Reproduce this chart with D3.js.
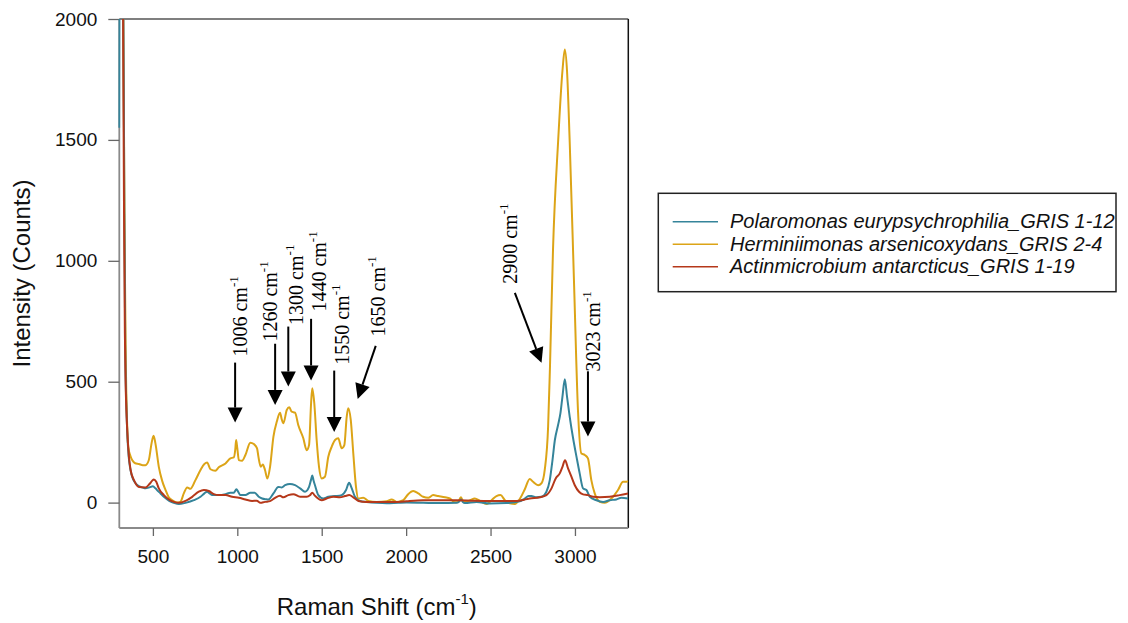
<!DOCTYPE html>
<html>
<head>
<meta charset="utf-8">
<script src="https://cdn.jsdelivr.net/npm/d3@7"></script>
<style>
  html, body { margin: 0; padding: 0; background: #ffffff; }
  svg { display: block; }
</style>
</head>
<body>
<svg id="chart" width="1128" height="623"></svg>
<script>
// Raman spectra of three Greenland ice-sheet isolates: [wavenumber (cm-1), intensity (counts)]
const polaromonas = [[300,1550],[302,2300],[318,2600],[326,1900],[331,1200],[336,650],[342,420],[348,290],[356,195],[366,140],[378,105],[392,85],[417,68],[440,62],[456,59],[480,63],[500,68],[515,59],[530,48],[545,38],[565,24],[585,13],[605,4],[624,-1],[654,-6],[693,-1],[743,10],[782,24],[805,38],[821,45],[836,38],[851,31],[890,31],[930,35],[959,41],[979,41],[995,55],[1005,45],[1018,31],[1048,31],[1077,41],[1103,41],[1127,24],[1147,17],[1170,14],[1184,13],[1214,38],[1243,65],[1263,63],[1283,72],[1312,77],[1342,72],[1372,59],[1401,45],[1425,65],[1437,95],[1444,112],[1452,90],[1460,72],[1480,31],[1509,17],[1539,24],[1579,27],[1618,31],[1644,52],[1662,82],[1678,59],[1697,24],[1727,7],[1766,3],[1825,-1],[1885,-3],[1953,-1],[2003,0],[2101,-1],[2200,-2],[2298,-1],[2315,5],[2326,13],[2336,2],[2348,-2],[2417,3],[2496,-4],[2594,-2],[2673,5],[2703,17],[2725,27],[2742,27],[2772,22],[2802,24],[2831,45],[2851,93],[2867,176],[2881,259],[2900,321],[2914,370],[2926,438],[2940,510],[2953,438],[2969,355],[2989,266],[3009,190],[3028,121],[3048,59],[3068,52],[3088,24],[3127,10],[3167,3],[3206,10],[3245,13],[3275,20],[3314,17]];

const herminiimonas = [[300,3000],[320,2600],[325,2000],[330,1400],[335,900],[340,560],[346,360],[354,231],[366,195],[378,175],[395,163],[417,160],[440,155],[456,155],[476,176],[492,245],[504,277],[515,245],[535,148],[555,90],[575,52],[594,22],[614,10],[644,0],[663,3],[683,38],[703,63],[722,57],[752,93],[782,135],[805,160],[821,166],[841,138],[870,132],[890,146],[930,162],[959,183],[979,187],[988,220],[993,259],[1000,225],[1009,176],[1028,173],[1048,197],[1077,248],[1098,242],[1117,224],[1125,190],[1139,148],[1151,158],[1164,135],[1178,100],[1194,148],[1214,273],[1234,335],[1253,372],[1263,345],[1273,328],[1293,383],[1308,394],[1322,376],[1342,372],[1361,321],[1391,266],[1411,217],[1425,238],[1437,411],[1444,473],[1456,411],[1470,259],[1484,148],[1500,100],[1519,107],[1539,190],[1559,231],[1579,259],[1598,266],[1618,225],[1634,238],[1648,355],[1657,390],[1672,342],[1687,204],[1703,65],[1717,17],[1746,20],[1776,7],[1825,3],[1885,6],[1914,13],[1944,3],[1983,10],[2012,35],[2042,48],[2072,38],[2101,24],[2131,20],[2160,31],[2190,27],[2230,22],[2259,17],[2289,1],[2308,3],[2324,22],[2338,7],[2367,7],[2407,17],[2437,7],[2476,-6],[2506,10],[2535,27],[2559,31],[2585,10],[2614,-3],[2644,-6],[2673,15],[2703,55],[2732,98],[2752,86],[2782,72],[2802,80],[2821,135],[2841,314],[2852,560],[2870,1046],[2900,1490],[2926,1786],[2940,1874],[2953,1786],[2969,1490],[2995,898],[3018,380],[3038,203],[3058,197],[3077,183],[3097,93],[3117,38],[3147,3],[3176,-1],[3216,17],[3255,52],[3285,86],[3305,86],[3314,90]];

const actinmicrobium = [[300,3000],[320,2600],[324,1900],[329,1200],[334,700],[338,507],[343,380],[348,300],[358,190],[368,135],[388,93],[417,65],[456,63],[480,77],[495,90],[506,96],[520,86],[535,59],[565,31],[595,13],[624,3],[654,-1],[693,7],[733,24],[772,45],[802,52],[831,48],[861,35],[890,31],[930,31],[969,24],[1009,20],[1048,13],[1088,7],[1115,8],[1137,-1],[1164,3],[1194,6],[1224,20],[1253,28],[1273,22],[1302,31],[1332,35],[1372,24],[1411,24],[1430,30],[1444,41],[1458,30],[1470,22],[1500,10],[1530,17],[1569,24],[1608,22],[1638,27],[1663,31],[1687,22],[1717,7],[1766,3],[1864,3],[1953,3],[2003,6],[2101,10],[2200,10],[2298,10],[2400,8],[2496,7],[2580,7],[2654,7],[2700,12],[2732,17],[2791,22],[2831,31],[2861,59],[2886,100],[2910,121],[2926,148],[2941,175],[2959,142],[2979,107],[2999,72],[3024,45],[3048,34],[3077,31],[3107,24],[3147,22],[3206,24],[3265,31],[3314,38]];

const seriesNames = [
  "Polaromonas eurypsychrophilia_GRIS 1-12",
  "Herminiimonas arsenicoxydans_GRIS 2-4",
  "Actinmicrobium antarcticus_GRIS 1-19"
];

const xTicks = [500, 1000, 1500, 2000, 2500, 3000];
const yTicks = [0, 500, 1000, 1500, 2000];

// Band assignments marked on the spectra: label, arrow tip, arrow tail, label anchor (cm-1, counts)
const bandLabels = ["1006", "1260", "1300", "1440", "1550", "1650", "2900", "3023"];
const arrowTips  = [[987,331],[1224,404],[1302,480],[1437,505],[1574,292],[1713,429],[2802,578],[3077,273]];
const arrowTails = [[987,579],[1224,657],[1302,728],[1437,760],[1574,546],[1820,648],[2644,867],[3077,543]];
const labelAnchors = [[1056,604],[1236,666],[1388,735],[1525,790],[1662,570],[1875,687],[2656,905],[3147,542]];

// ---- layout ----
const svg = d3.select("#chart");
const plot = { left: 119.3, right: 628.3, top: 19, bottom: 528 };
const colors = ["#35849a", "#dca417", "#b5381a"];
const sansFont = "'Liberation Sans', Arial, sans-serif";
const serifFont = "'Liberation Serif', 'Times New Roman', serif";

const x = d3.scaleLinear().domain([301, 3316]).range([plot.left, plot.right]);
const y = d3.scaleLinear().domain([-105, 2000]).range([plot.bottom, plot.top]);

svg.append("defs").append("clipPath").attr("id", "plotClip")
  .append("rect")
  .attr("x", plot.left - 1).attr("y", plot.top)
  .attr("width", plot.right - plot.left + 1).attr("height", plot.bottom - plot.top);

// spectra
const line = d3.line()
  .x(d => x(d[0]))
  .y(d => y(d[1]))
  .curve(d3.curveMonotoneX);

const seriesData = [polaromonas, herminiimonas, actinmicrobium];
const drawOrder = [1, 0, 2];

// frame: top and right edges
svg.append("line")
  .attr("x1", plot.left).attr("x2", plot.right)
  .attr("y1", plot.top).attr("y2", plot.top)
  .attr("stroke", "#555").attr("stroke-width", 1.5);
svg.append("line")
  .attr("x1", plot.right).attr("x2", plot.right)
  .attr("y1", plot.top).attr("y2", plot.bottom)
  .attr("stroke", "#111").attr("stroke-width", 1.5);

// axes
const fmt = d3.format("d");
const xAxis = svg.append("g")
  .attr("transform", `translate(0,${plot.bottom})`)
  .call(d3.axisBottom(x).tickValues(xTicks).tickFormat(fmt).tickSize(8).tickPadding(14).tickSizeOuter(0));
const yAxis = svg.append("g")
  .attr("transform", `translate(${plot.left},0)`)
  .call(d3.axisLeft(y).tickValues(yTicks).tickFormat(fmt).tickSize(11).tickPadding(11).tickSizeOuter(0));

[xAxis, yAxis].forEach(g => {
  g.select(".domain").attr("stroke", "#8a8a8a").attr("stroke-width", 1.8);
  g.selectAll(".tick line").attr("stroke", "#666").attr("stroke-width", 1.3);
  g.selectAll(".tick text")
    .attr("font-family", sansFont)
    .attr("font-size", 19)
    .attr("fill", "#111");
});
// extend the axis lines over the full plot box
xAxis.select(".domain").attr("d", `M${plot.left},0H${plot.right}`);
yAxis.select(".domain").attr("d", `M0,${plot.top}V${plot.bottom}`);

svg.append("g").attr("clip-path", "url(#plotClip)")
  .selectAll("path")
  .data(drawOrder)
  .join("path")
  .attr("d", i => line(seriesData[i]))
  .attr("fill", "none")
  .attr("stroke", i => colors[i])
  .attr("stroke-width", 2)
  .attr("stroke-linejoin", "round");

// axis titles
const xTitle = svg.append("text")
  .attr("x", (plot.left + plot.right) / 2 + 3)
  .attr("y", 615)
  .attr("text-anchor", "middle")
  .attr("font-family", sansFont)
  .attr("font-size", 24)
  .attr("fill", "#111");
xTitle.append("tspan").text("Raman Shift (cm");
xTitle.append("tspan").attr("font-size", 15).attr("dy", "-0.75em").text("-1");
xTitle.append("tspan").attr("dy", "0.47em").text(")");

svg.append("text")
  .attr("transform", `translate(30,${(plot.top + plot.bottom) / 2}) rotate(-90)`)
  .attr("text-anchor", "middle")
  .attr("font-family", sansFont)
  .attr("font-size", 24)
  .attr("fill", "#111")
  .text("Intensity (Counts)");

// band annotations
const headLen = 15, headHalf = 7.5;
const ann = svg.append("g");
bandLabels.forEach((lab, i) => {
  const [tx, ty] = [x(arrowTips[i][0]), y(arrowTips[i][1])];
  const [sx, sy] = [x(arrowTails[i][0]), y(arrowTails[i][1])];
  const len = Math.hypot(tx - sx, ty - sy);
  const ux = (tx - sx) / len, uy = (ty - sy) / len;
  const bx = tx - ux * headLen, by = ty - uy * headLen;
  ann.append("line")
    .attr("x1", sx).attr("y1", sy).attr("x2", bx).attr("y2", by)
    .attr("stroke", "#000").attr("stroke-width", 2);
  ann.append("path")
    .attr("d", `M${tx},${ty}L${bx - uy * headHalf},${by + ux * headHalf}L${bx + uy * headHalf},${by - ux * headHalf}Z`)
    .attr("fill", "#000");
  const t = ann.append("text")
    .attr("transform", `translate(${x(labelAnchors[i][0])},${y(labelAnchors[i][1])}) rotate(-90)`)
    .attr("font-family", serifFont)
    .attr("font-size", 20)
    .attr("fill", "#000");
  t.append("tspan").text(lab + " cm");
  t.append("tspan").attr("font-size", 13).attr("dy", "-0.7em").text("-1");
});

// legend
const legend = svg.append("g");
legend.append("rect")
  .attr("x", 658.3).attr("y", 193.3)
  .attr("width", 1116 - 658.3).attr("height", 291.7 - 193.3)
  .attr("fill", "#fff").attr("stroke", "#222").attr("stroke-width", 1.5);
const rowY = [221.7, 244.3, 266.7];
seriesNames.forEach((name, i) => {
  legend.append("line")
    .attr("x1", 672.7).attr("x2", 718)
    .attr("y1", rowY[i]).attr("y2", rowY[i])
    .attr("stroke", colors[i]).attr("stroke-width", 1.6);
  legend.append("text")
    .attr("x", 730).attr("y", rowY[i] + 6.5)
    .attr("font-family", sansFont)
    .attr("font-style", "italic")
    .attr("font-size", 20)
    .attr("fill", "#111")
    .text(name);
});
</script>
</body>
</html>
